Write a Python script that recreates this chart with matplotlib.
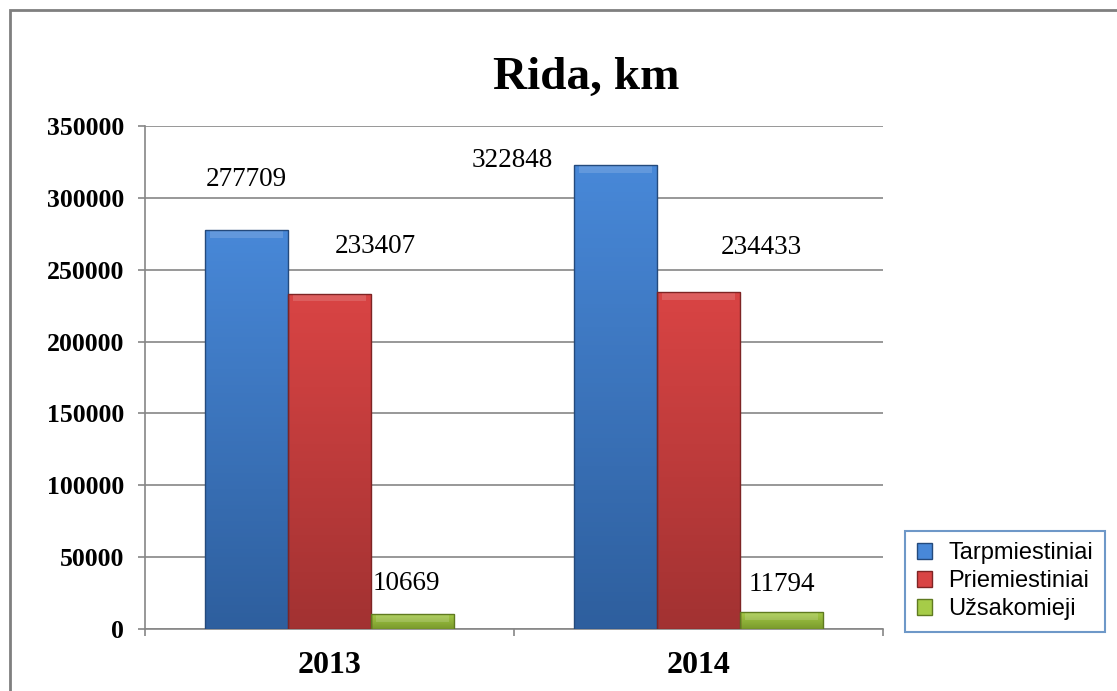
import numpy as np
import matplotlib.pyplot as plt
from matplotlib.patches import Patch, Rectangle
from matplotlib.colors import LinearSegmentedColormap

# donnees du graphique
metai = ['2013', '2014']
serijos = ['Tarpmiestiniai', 'Priemiestiniai', 'Užsakomieji']
tarpmiestiniai = [277709, 322848]
priemiestiniai = [233407, 234433]
uzsakomieji = [10669, 11794]
y_ticks = [0, 50000, 100000, 150000, 200000, 250000, 300000, 350000]

# couleurs (haut clair -> bas fonce)
spalvos = [('#4888d8', '#2e5f9e'), ('#d94444', '#a23232'), ('#a6cc48', '#7a9a2c')]
krastai = ['#244a7c', '#7e2424', '#5f7a20']
# decalages manuels des etiquettes (pixels)
poslinkiai = [[(0, 50), (-103, 4)], [(46, 47), (63, 45)], [(-6, 30), (0, 28)]]

serijos_reiksmes = [tarpmiestiniai, priemiestiniai, uzsakomieji]

fig = plt.figure(figsize=(11.17, 6.91), dpi=100)
ax = fig.add_axes([0.1298, 0.0897, 0.6607, 0.7280])

# cadre exterieur
fig.patches.append(Rectangle((10 / 1117, -0.05), 1.2, 1 - 10 / 691 + 0.05,
                             transform=fig.transFigure, fill=False,
                             edgecolor='#7f7f7f', linewidth=2))

x = np.arange(len(metai))
plotis = 0.225
for i, reiksmes in enumerate(serijos_reiksmes):
    xs = x + (i - 1) * plotis
    bars = ax.bar(xs, reiksmes, plotis, color=spalvos[i][0], linewidth=0, zorder=3)
    cmap = LinearSegmentedColormap.from_list('g%d' % i, [spalvos[i][1], spalvos[i][0]])
    for b in bars:
        x0, w, h = b.get_x(), b.get_width(), b.get_height()
        grad = np.linspace(0, 1, 100).reshape(-1, 1)
        im = ax.imshow(grad, extent=(x0, x0 + w, 0, h), origin='lower', cmap=cmap,
                       aspect='auto', zorder=3)
        im.set_clip_path(b)
        # petit biseau clair en haut
        ax.bar(x0 + w / 2, 5000, w * 0.88, bottom=h - 5500, color='white', alpha=0.15,
               linewidth=0, zorder=4)
    # contour sombre par-dessus le degrade
    ax.bar(xs, reiksmes, plotis, fill=False, edgecolor=krastai[i], linewidth=1.0, zorder=4)
    for j, b in enumerate(bars):
        dx, dy = poslinkiai[i][j]
        ax.annotate(str(reiksmes[j]), (b.get_x() + b.get_width() / 2, b.get_height()),
                    xytext=(dx, dy), textcoords='offset pixels', ha='center', va='center',
                    fontsize=19.5, family='Liberation Serif', zorder=5)

ax.set_xlim(-0.5, 1.5)
ax.set_ylim(0, 350000)
ax.set_yticks(y_ticks)
ax.set_yticklabels([str(v) for v in y_ticks], fontsize=18.5, fontweight='bold',
                   family='Liberation Serif')
ax.set_xticks([-0.5, 0.5, 1.5])
ax.set_xticklabels([])
ax.set_xticks(x, minor=True)
ax.set_xticklabels(metai, minor=True, fontsize=23, fontweight='bold',
                   family='Liberation Serif')
ax.tick_params(axis='x', which='minor', length=0, pad=16)
ax.tick_params(axis='both', which='major', length=5, color='#868686', width=1.2)
ax.tick_params(axis='y', pad=10)
ax.grid(axis='y', color='#868686', linewidth=1.2, zorder=0)
ax.set_axisbelow(True)
for s in ['top', 'right']:
    ax.spines[s].set_visible(False)
for s in ['left', 'bottom']:
    ax.spines[s].set_color('#868686')
    ax.spines[s].set_linewidth(1.2)

fig.text(0.525, 0.887, 'Rida, km', ha='center', va='center', fontsize=34,
         fontweight='bold', family='Liberation Serif')

handles = [Patch(facecolor=spalvos[i][0], edgecolor=krastai[i]) for i in range(3)]
leg = fig.legend(handles, serijos, loc='lower left', bbox_to_anchor=(0.81, 0.0854),
                 bbox_transform=fig.transFigure, fancybox=False, frameon=True,
                 prop={'family': 'Liberation Sans', 'size': 17}, handlelength=0.65,
                 handleheight=0.65, handletextpad=0.7, labelspacing=0.25,
                 borderpad=0.5, borderaxespad=0)
leg.get_frame().set_edgecolor('#4a7ebb')
leg.get_frame().set_linewidth(1.5)

plt.savefig('out.png', dpi=100)
